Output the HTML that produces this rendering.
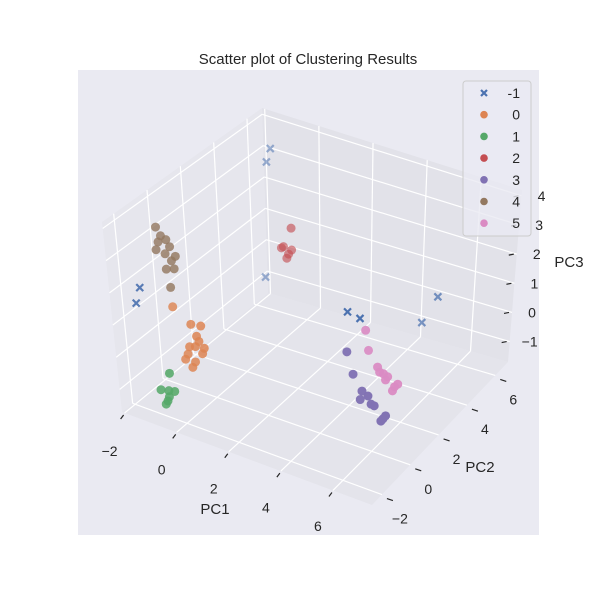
<!DOCTYPE html>
<html><head><meta charset="utf-8"><style>
body{margin:0;background:#fff;}
svg{display:block;font-family:"Liberation Sans","DejaVu Sans",sans-serif;}
</style></head><body>
<svg id="chart" width="600" height="600" viewBox="0 0 600 600">
<rect x="0" y="0" width="600" height="600" fill="#ffffff"/>
<rect x="78" y="70" width="461" height="465" fill="#eaeaf2"/>
<text x="308" y="64" text-anchor="middle" font-size="15" fill="#262626">Scatter plot of Clustering Results</text>
<g id="panes"></g><g id="grid"></g><g id="ticks"></g><g id="points"></g>
<text x="215" y="514" text-anchor="middle" font-size="15" fill="#262626">PC1</text>
<text x="480" y="472" text-anchor="middle" font-size="15" fill="#262626">PC2</text>
<text x="569" y="267" text-anchor="middle" font-size="15" fill="#262626">PC3</text>
<g id="legend"></g>
</svg>
<script>
const clusterLabels = ["-1","0","1","2","3","4","5"];
const clusterColors = ["#4c72b0","#dd8452","#55a868","#c44e52","#8172b3","#937860","#da8bc3"];
const xTicks = [-2,0,2,4,6];
const yTicks = [-2,0,2,4,6];
const zTicks = [-1,0,1,2,3,4];
const pc1 = [-1.58,-1.39,-1.27,-1.43,-1.61,5.11,4.53,5.12,5.58,
 -1.49,-0.84,-0.46,-0.65,-0.72,-1.03,-0.46,-0.76,-0.88,-0.38,-0.95,-0.57,-1.14,
 -1.18,-1.57,-1.26,-1.03,-1.33,-1.26,-1.41,
 0.06,-0.25,-0.06,-0.13,0.06,-0.33,
 4.50,4.73,5.07,5.30,5.42,5.00,5.88,5.80,5.98,5.54,
 -1.90,-1.74,-1.55,-1.95,-1.62,-1.43,-1.40,-1.62,-1.32,-1.51,-1.85,-1.24,
 4.64,4.75,5.10,5.33,5.49,5.76,5.88,5.68,5.41,5.18];
const pc2 = [-2,-2,6,6,6,6,6,0,0,
 0,0,0,0,0,0,0,0,0,0,0,0,0,
 -1,-1,-1,-1,-1,-1,-1,
 5,5,5,5,5,5,
 1,1,1,1,1,1,1,1,1,1,
 0,0,0,0,0,0,0,0,0,0,0,0,
 2,2,2,2,2,2,2,2,2,2];
const pc3 = [1.56,2.09,3.47,3.0,-0.72,0.32,-0.68,2.30,2.22,
 0.71,0.34,0.39,0.02,-0.32,-0.64,-0.47,-0.81,-1.01,-0.28,-0.39,-0.12,-0.83,
 -0.89,-1.51,-1.45,-1.41,-1.79,-1.64,-1.91,
 1.66,0.99,0.80,0.65,0.96,0.93,
 0.52,-0.11,-0.54,-0.63,-0.85,-0.82,-1.18,-1.27,-1.06,-0.87,
 3.09,2.86,2.79,2.37,2.33,2.60,2.17,1.85,1.94,1.31,2.64,2.35,
 0.82,0.22,-0.21,-0.36,-0.41,-0.65,-0.54,-0.80,-0.53,-0.35];
const cluster = [-1,-1,-1,-1,-1,-1,-1,-1,-1,
 0,0,0,0,0,0,0,0,0,0,0,0,0,
 1,1,1,1,1,1,1,
 2,2,2,2,2,2,
 3,3,3,3,3,3,3,3,3,3,
 4,4,4,4,4,4,4,4,4,4,4,4,
 5,5,5,5,5,5,5,5,5,5];

const XMIN=-2.1,XMAX=7.5,YMIN=-2.7,YMAX=6.9,ZMIN=-1.7,ZMAX=4.2;
const C={"000":[122,412],"100":[372,505],"110":[508,362],"010":[268,293],
 "001":[102,222],"101":[370,300],"111":[522,190],"011":[262,108]};
function proj(x,y,z){
 const u=(x-XMIN)/(XMAX-XMIN),v=(y-YMIN)/(YMAX-YMIN),w=(z-ZMIN)/(ZMAX-ZMIN);
 let px=0,py=0;
 for(const k in C){const a=+k[0],b=+k[1],c=+k[2];
  const f=(a?u:1-u)*(b?v:1-v)*(c?w:1-w);px+=f*C[k][0];py+=f*C[k][1];}
 return [px,py];
}
const NS="http://www.w3.org/2000/svg";
function mk(tag,attrs,parent){const e=document.createElementNS(NS,tag);for(const k in attrs)e.setAttribute(k,attrs[k]);parent.appendChild(e);return e;}
const panes=document.getElementById('panes'),grid=document.getElementById('grid'),ticks=document.getElementById('ticks'),pts=document.getElementById('points');
function poly(arr){return arr.map(p=>p.join(',')).join(' ');}
let e;
e=mk('polygon',{points:poly([proj(XMIN,YMIN,ZMIN),proj(XMIN,YMAX,ZMIN),proj(XMIN,YMAX,ZMAX),proj(XMIN,YMIN,ZMAX)]),fill:'#e6e6ed'},panes);


e=mk('polygon',{points:poly([proj(XMIN,YMAX,ZMIN),proj(XMAX,YMAX,ZMIN),proj(XMAX,YMAX,ZMAX),proj(XMIN,YMAX,ZMAX)]),fill:'#e2e2e9'},panes);


e=mk('polygon',{points:poly([proj(XMIN,YMIN,ZMIN),proj(XMAX,YMIN,ZMIN),proj(XMAX,YMAX,ZMIN),proj(XMIN,YMAX,ZMIN)]),fill:'#e4e4eb'},panes);


function gl(a,b,name){const l=mk('line',{x1:a[0],y1:a[1],x2:b[0],y2:b[1],stroke:'#ffffff','stroke-width':1.2},grid);
 
 }
xTicks.forEach(t=>{gl(proj(t,YMIN,ZMIN),proj(t,YMAX,ZMIN),'gridline-x');gl(proj(t,YMAX,ZMIN),proj(t,YMAX,ZMAX),'gridline-x');});
yTicks.forEach(t=>{gl(proj(XMIN,t,ZMIN),proj(XMAX,t,ZMIN),'gridline-y');gl(proj(XMIN,t,ZMIN),proj(XMIN,t,ZMAX),'gridline-y');});
zTicks.forEach(t=>{gl(proj(XMIN,YMIN,t),proj(XMIN,YMAX,t),'gridline-z');gl(proj(XMIN,YMAX,t),proj(XMAX,YMAX,t),'gridline-z');});
function tk(a,b,lab,lp,name){
 const l=mk('line',{x1:a[0],y1:a[1],x2:b[0],y2:b[1],stroke:'#262626','stroke-width':1.2},ticks);
 
 
 const t=mk('text',{x:lp[0],y:lp[1],'text-anchor':'middle','font-size':14,fill:'#262626'},ticks);
 t.textContent=String(lab).replace('-','\u2212');
 
 
}
xTicks.forEach(t=>{const p=proj(t,YMIN,ZMIN);tk([p[0]-4,p[1]+6],[p[0]-1,p[1]+2],t,[p[0]-15,p[1]+43-(t+2)*0.3],'x-axis');});
yTicks.forEach(t=>{const p=proj(XMAX,t,ZMIN);tk([p[0]+5,p[1]+4],[p[0]+11,p[1]+6],t,[p[0]+18,p[1]+29],'y-axis');});
zTicks.forEach(t=>{const p=proj(XMAX,YMAX,t);tk([p[0]-8,p[1]+1],[p[0]-3,p[1]],t,[p[0]+20,p[1]+5],'z-axis');});
const order=pc1.map((_,i)=>i);
function depth(i){return (pc2[i]-YMIN)/(YMAX-YMIN)*0.6+(XMAX-pc1[i])/(XMAX-XMIN)*0.4;}
order.sort((a,b)=>depth(b)-depth(a));
order.forEach(i=>{
 const p=proj(pc1[i],pc2[i],pc3[i]);const ci=clusterLabels.indexOf(String(cluster[i]));
 const col=clusterColors[ci];const d=depth(i);const op=Math.max(0.35,1-0.75*Math.max(0,d-0.3));
 let m;
 if(cluster[i]===-1){
  m=mk('path',{d:`M${p[0]-3.5},${p[1]-3.5}L${p[0]+3.5},${p[1]+3.5}M${p[0]-3.5},${p[1]+3.5}L${p[0]+3.5},${p[1]-3.5}`,stroke:col,'stroke-width':2.2,opacity:op},pts);
 } else {
  m=mk('circle',{cx:p[0],cy:p[1],r:4.5,fill:col,opacity:op},pts);
 }
 
 
});
const lg=document.getElementById('legend');
e=mk('rect',{x:463,y:81,width:68,height:155,rx:3,fill:'#eaeaf2','fill-opacity':0.8,stroke:'#cccccc'},lg);


clusterLabels.forEach((lab,i)=>{
 const y=93+i*21.7;let m;
 if(i===0){m=mk('path',{d:`M481,${y-3}L487,${y+3}M481,${y+3}L487,${y-3}`,stroke:clusterColors[i],'stroke-width':2.2},lg);}
 else{m=mk('circle',{cx:484,cy:y,r:3.8,fill:clusterColors[i]},lg);}
 
 
 const t=mk('text',{x:520,y:y+5,'text-anchor':'end','font-size':14,fill:'#262626'},lg);
 t.textContent=lab;
 
 
});
</script>
</body></html>
